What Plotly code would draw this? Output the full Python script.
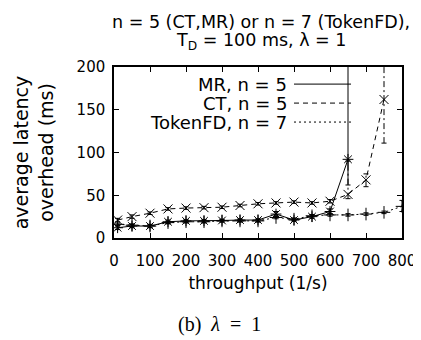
import plotly.graph_objects as go

# ---- data ----
x_mr = [10, 50, 100, 150, 200, 250, 300, 350, 400, 450, 500, 550, 600, 650]
mr = [12, 14, 14, 19, 20, 20, 20.5, 21, 21, 28, 21, 25, 31, 92]
mr_lo = [10, 12, 12, 17, 18.5, 18.5, 19, 19.5, 19.5, 25, 19.5, 23, 28, 62]
mr_hi = [14, 16, 16, 21, 21.5, 21.5, 22, 22.5, 22.5, 31, 22.5, 27, 34, 215]

x_ct = [10, 50, 100, 150, 200, 250, 300, 350, 400, 450, 500, 550, 600, 650, 700, 750]
ct = [21, 25, 29, 34, 35, 35.5, 36, 38, 40, 41, 42, 41, 43, 51, 68, 162]
ct_lo = [19, 23, 27.5, 32.5, 33.5, 34, 34.5, 36.5, 38.5, 39.5, 40.5, 39.5, 41, 46, 60, 111]
ct_hi = [23, 27, 30.5, 35.5, 36.5, 37, 37.5, 39.5, 41.5, 42.5, 43.5, 42.5, 45, 90, 75, 215]

x_tk = [10, 50, 100, 150, 200, 250, 300, 350, 400, 450, 500, 550, 600, 650, 700, 750, 800]
tk = [16, 15, 14, 18, 19, 19, 20, 20, 20, 24, 22, 26, 27, 27, 28, 30, 37]
tk_lo = [14.5, 13.5, 12.5, 16.5, 17.5, 17.5, 18.5, 18.5, 18.5, 22.5, 20.5, 24.5, 25.5, 25.5, 26.5, 28.5, 31]
tk_hi = [17.5, 16.5, 15.5, 19.5, 20.5, 20.5, 21.5, 21.5, 21.5, 25.5, 23.5, 27.5, 28.5, 28.5, 29.5, 31.5, 44]

series = [
    ("MR, n = 5", x_mr, mr, mr_lo, mr_hi, "solid", "solid", "asterisk-open"),
    ("CT, n = 5", x_ct, ct, ct_lo, ct_hi, "5px,4px", "6px,3px,2px,3px", "x-thin-open"),
    ("TokenFD, n = 7", x_tk, tk, tk_lo, tk_hi, "2px,3px", "2px,3px", "cross-thin-open"),
]

x_ticks = [0, 100, 200, 300, 400, 500, 600, 700, 800]
y_ticks = [0, 50, 100, 150, 200]

title_lines = ["n = 5 (CT,MR) or n = 7 (TokenFD),", "T<sub>D</sub> = 100 ms, λ = 1"]

FONT = "DejaVu Sans"
CAP = 7  # half cap width in data units

fig = go.Figure()
for name, xs, ys, lo, hi, dash, edash, sym in series:
    ex, ey = [], []
    for x, l, h in zip(xs, lo, hi):
        ex += [x, x, None]
        ey += [l, h, None]
    fig.add_trace(go.Scatter(x=ex, y=ey, mode="lines", showlegend=False,
                             line=dict(color="black", width=1, dash=edash),
                             hoverinfo="skip"))
    cx, cy = [], []
    for x, l, h in zip(xs, lo, hi):
        cx += [x - CAP, x + CAP, None, x - CAP, x + CAP, None]
        cy += [l, l, None, h, h, None]
    fig.add_trace(go.Scatter(x=cx, y=cy, mode="lines", showlegend=False,
                             line=dict(color="black", width=1),
                             hoverinfo="skip"))
    fig.add_trace(go.Scatter(x=xs, y=ys, mode="lines+markers", name=name,
                             showlegend=False,
                             line=dict(color="black", width=1, dash=dash),
                             marker=dict(symbol=sym, size=9, color="black",
                                         line=dict(color="black", width=1))))

# gnuplot-style key: text right-aligned, sample line on the right
key_y = [0.90, 0.789, 0.678]
for (name, *_rest), ky in zip(series, key_y):
    dash = _rest[4]
    fig.add_annotation(x=0.608, y=ky, xref="paper", yref="paper", text=name,
                       showarrow=False, xanchor="right", yanchor="middle",
                       font=dict(family=FONT, size=18, color="black"))
    fig.add_shape(type="line", xref="paper", yref="paper",
                  x0=0.625, x1=0.823, y0=ky, y1=ky,
                  line=dict(color="black", width=1, dash=dash))

for line, ty in zip(title_lines, [1.263, 1.152]):
    fig.add_annotation(x=0.512, y=ty, xref="paper", yref="paper",
                       yanchor="middle", showarrow=False, text=line,
                       font=dict(family=FONT, size=17.5, color="black"))

fig.add_annotation(x=0.365, y=-0.503, xref="paper", yref="paper",
                   showarrow=False, yanchor="middle",
                   text="(b)\u2002<i>λ</i>\u2002=\u20021",
                   font=dict(family="Liberation Serif", size=20, color="black"))

fig.update_layout(
    width=421, height=340,
    margin=dict(l=106, r=27, t=59, b=110),
    paper_bgcolor="white", plot_bgcolor="white",
    font=dict(family=FONT, size=15, color="black"),
    showlegend=False,
)
fig.update_xaxes(range=[0, 800], tickvals=x_ticks, ticks="inside", ticklen=5,
                 mirror="ticks", showline=True, linecolor="black", linewidth=1.5,
                 showgrid=False, zeroline=False, tickcolor="black",
                 automargin=False, ticklabelstandoff=8,
                 tickfont=dict(family=FONT, size=15),
                 title=dict(text="throughput (1/s)", font=dict(family=FONT, size=17),
                            standoff=8))
fig.update_yaxes(range=[0, 200], tickvals=y_ticks, ticks="inside", ticklen=5,
                 mirror="ticks", showline=True, linecolor="black", linewidth=1.5,
                 showgrid=False, zeroline=False, tickcolor="black",
                 automargin=False, ticklabelstandoff=4,
                 tickfont=dict(family=FONT, size=15),
                 title=dict(text="average latency<br>overhead (ms)",
                            font=dict(family=FONT, size=19), standoff=18))

fig.write_html("out.html")
